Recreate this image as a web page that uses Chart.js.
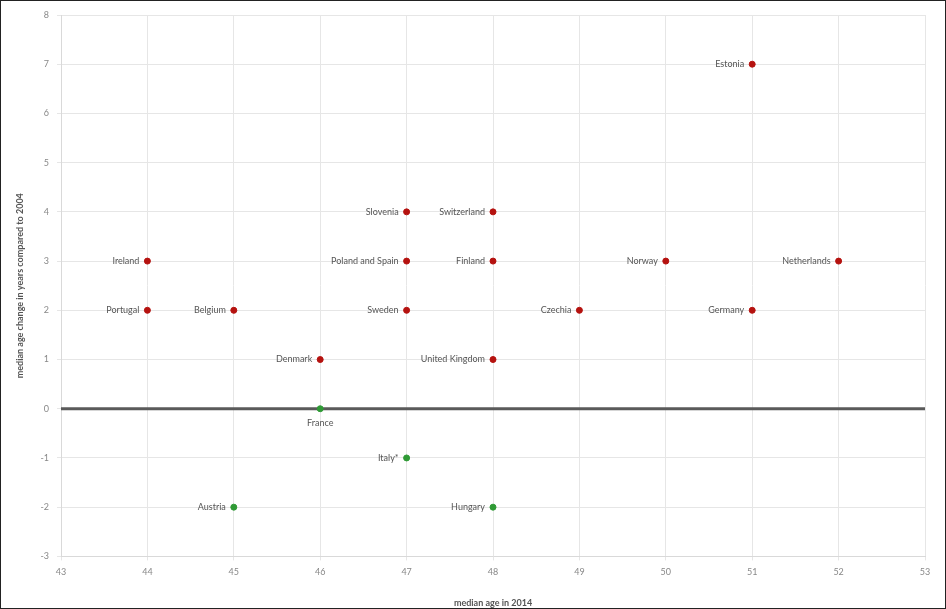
<!DOCTYPE html>
<html>
<head>
<meta charset="utf-8">
<script src="https://cdn.jsdelivr.net/npm/chart.js@4.4.1/dist/chart.umd.min.js"></script>
<style>
  html, body { margin: 0; padding: 0; background: #fff; }
  #wrap { position: relative; width: 946px; height: 609px; box-sizing: border-box; border: 1px solid #222; }
  canvas { display: block; }
</style>
</head>
<body>
<div id="wrap"><canvas id="grafica" width="944" height="607"></canvas></div>
<script>
// datos
const paises = ['Estonia', 'Slovenia', 'Switzerland', 'Ireland', 'Poland and Spain', 'Finland', 'Norway', 'Netherlands',
  'Portugal', 'Belgium', 'Sweden', 'Czechia', 'Germany', 'Denmark', 'United Kingdom', 'France', 'Italy*', 'Austria', 'Hungary'];
const edadMediana2014 = [51, 47, 48, 44, 47, 48, 50, 52, 44, 45, 47, 49, 51, 46, 48, 46, 47, 45, 48];
const cambioDesde2004 = [7, 4, 4, 3, 3, 3, 3, 3, 2, 2, 2, 2, 2, 1, 1, 0, -1, -2, -2];
const ticksX = [43, 44, 45, 46, 47, 48, 49, 50, 51, 52, 53];
const ticksY = [-3, -2, -1, 0, 1, 2, 3, 4, 5, 6, 7, 8];

const rojo = '#b5120f';
const verde = '#2f9a35';

let puntos = paises.map((p, i) => ({ x: edadMediana2014[i], y: cambioDesde2004[i], nombre: p }));
let colores = cambioDesde2004.map(v => v > 0 ? rojo : verde);

// Plugin para escribir el nombre del país junto al punto
const etiquetas = {
  id: 'etiquetas',
  afterDatasetsDraw(chart) {
    const ctx = chart.ctx;
    const meta = chart.getDatasetMeta(0);
    ctx.save();
    ctx.font = '9px Lato, "Open Sans", sans-serif';
    ctx.fillStyle = '#555';
    meta.data.forEach((el, i) => {
      const p = puntos[i];
      if (p.nombre === 'France') {
        ctx.textAlign = 'center';
        ctx.textBaseline = 'top';
        ctx.fillText(p.nombre, el.x, el.y + 10);
      } else {
        ctx.textAlign = 'right';
        ctx.textBaseline = 'middle';
        ctx.fillText(p.nombre, el.x - 8, el.y);
      }
    });
    ctx.restore();
  }
};

// Línea gruesa en cero
const lineaCero = {
  id: 'lineaCero',
  beforeDatasetsDraw(chart) {
    const ctx = chart.ctx;
    const y = chart.scales.y.getPixelForValue(0);
    ctx.save();
    ctx.strokeStyle = '#5a5a5a';
    ctx.lineWidth = 3;
    ctx.beginPath();
    ctx.moveTo(chart.chartArea.left, y);
    ctx.lineTo(chart.chartArea.right, y);
    ctx.stroke();
    ctx.restore();
  }
};

new Chart(document.getElementById('grafica').getContext('2d'), {
  type: 'scatter',
  data: {
    datasets: [{
      data: puntos,
      backgroundColor: colores,
      borderColor: colores,
      pointRadius: 3,
      pointHoverRadius: 3
    }]
  },
  options: {
    responsive: false,
    animation: false,
    layout: { padding: { top: 14, right: 20, left: 0, bottom: 0 } },
    plugins: { legend: { display: false }, tooltip: { enabled: false } },
    scales: {
      x: {
        type: 'linear',
        min: 43, max: 53,
        afterBuildTicks: s => { s.ticks = ticksX.map(v => ({ value: v })); },
        grid: { color: '#e6e6e6', drawTicks: true, tickLength: 4 },
        border: { color: '#d9d9d9' },
        ticks: { color: '#888', font: { size: 9, family: 'Lato, "Open Sans", sans-serif' }, padding: 6 },
        title: { display: true, text: 'median age in 2014', color: '#555', font: { size: 9, weight: 'bold', family: 'Lato, "Open Sans", sans-serif' }, padding: { top: 14, bottom: 0 } }
      },
      y: {
        type: 'linear',
        min: -3, max: 8,
        afterBuildTicks: s => { s.ticks = ticksY.map(v => ({ value: v })); },
        afterFit: s => { s.width = 60; },
        grid: { color: '#e6e6e6', tickLength: 4 },
        border: { color: '#d9d9d9' },
        ticks: { color: '#888', font: { size: 9, family: 'Lato, "Open Sans", sans-serif' }, padding: 8 },
        title: { display: true, text: 'median age change in years compared to 2004', color: '#555', font: { size: 9, weight: 'bold', family: 'Lato, "Open Sans", sans-serif' }, padding: { top: 14, bottom: 4 } }
      }
    }
  },
  plugins: [lineaCero, etiquetas]
});
</script>
</body>
</html>
